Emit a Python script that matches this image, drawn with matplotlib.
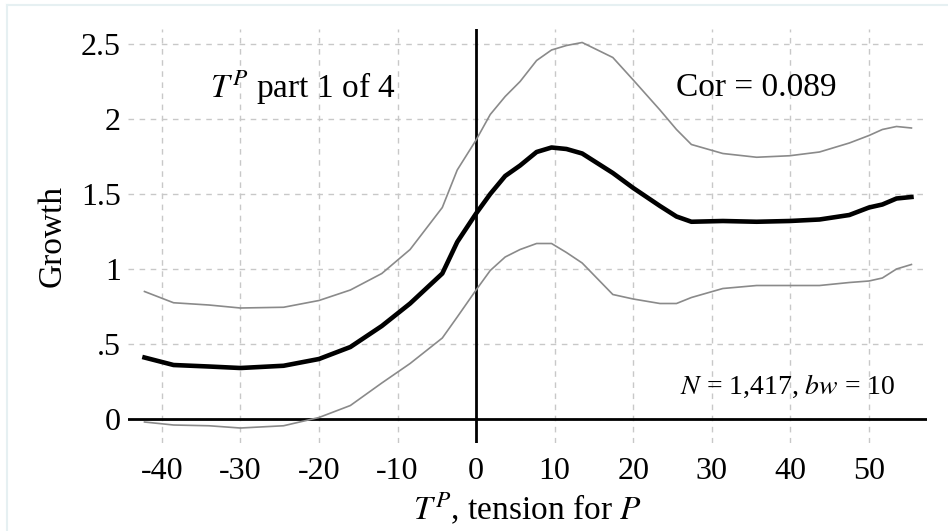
import matplotlib
matplotlib.use('Agg')
import matplotlib.pyplot as plt
from matplotlib.lines import Line2D
import numpy as np

plt.rcParams['font.family'] = ['Liberation Serif', 'DejaVu Serif']
plt.rcParams['mathtext.fontset'] = 'stix'

# tension values where the smoothed curves were evaluated
tension = [-42.2, -38.5, -34, -30, -24.5, -20, -16, -12, -8.4, -4.3, -2.4, 0,
           1.8, 3.7, 5.6, 7.7, 9.6, 11.5, 13.5, 17.4, 20, 23.4, 25.5, 27.4,
           31.4, 35.7, 39.9, 43.7, 47.5, 50, 51.7, 53.5, 55.4]

# estimated growth
growth = [0.41, 0.36, 0.35, 0.34, 0.355, 0.40, 0.48, 0.62, 0.77, 0.97, 1.18, 1.37,
          1.50, 1.62, 1.69, 1.78, 1.81, 1.80, 1.77, 1.64, 1.54, 1.42, 1.35, 1.315,
          1.32, 1.315, 1.32, 1.33, 1.36, 1.41, 1.43, 1.47, 1.48]

# upper and lower confidence bands
upper = [0.85, 0.775, 0.76, 0.74, 0.745, 0.79, 0.86, 0.97, 1.13, 1.41, 1.66, 1.86,
         2.03, 2.15, 2.25, 2.39, 2.46, 2.49, 2.51, 2.41, 2.26, 2.06, 1.93, 1.83,
         1.77, 1.745, 1.755, 1.78, 1.84, 1.89, 1.93, 1.95, 1.94]
lower = [-0.02, -0.04, -0.045, -0.06, -0.045, 0.01, 0.09, 0.24, 0.37, 0.54, 0.68, 0.86,
         0.99, 1.08, 1.13, 1.17, 1.17, 1.11, 1.04, 0.83, 0.80, 0.77, 0.77, 0.81,
         0.87, 0.89, 0.89, 0.89, 0.91, 0.92, 0.94, 1.00, 1.03]

x_ticks = [-40, -30, -20, -10, 0, 10, 20, 30, 40, 50]
y_ticks = [0, 0.5, 1, 1.5, 2, 2.5]
y_tick_labels = ['0', '.5', '1', '1.5', '2', '2.5']

fig = plt.figure(figsize=(9.48, 5.31), dpi=100)
ax = fig.add_axes([0.135, 0.1657, 0.843, 0.7797])

# grid
ax.grid(True, color='#c8c8c8', linestyle=(0, (4, 4)), linewidth=1.0)
ax.set_axisbelow(True)

# zero lines
ax.axhline(0, color='black', linewidth=2.0, zorder=2)
ax.axvline(0, color='black', linewidth=2.0, zorder=2)

# curves
x = np.array(tension)
ax.plot(x, upper, color='#8a8a8a', linewidth=1.2, zorder=3)
ax.plot(x, lower, color='#8a8a8a', linewidth=1.2, zorder=3)
ax.plot(x, growth, color='black', linewidth=3.3, zorder=4)

ax.set_xlim(-44.3, 57.4)
ax.set_ylim(-0.16, 2.6)
ax.set_xticks(x_ticks)
ax.set_xticklabels([str(t) for t in x_ticks])
ax.set_yticks(y_ticks)
ax.set_yticklabels(y_tick_labels)
ax.tick_params(axis='both', length=0, labelsize=23)
ax.tick_params(axis='x', pad=10)
ax.tick_params(axis='y', pad=5)

for s in ax.spines.values():
    s.set_visible(False)

ax.set_ylabel('Growth', fontsize=24, labelpad=10)
ax.set_xlabel(r'$T^P$, tension for $P$', fontsize=24, labelpad=3)

# annotations
ax.text(-33.8, 2.21, r'$T^P$ part 1 of 4', fontsize=24, ha='left', va='center')
ax.text(25.5, 2.21, 'Cor = 0.089', fontsize=24, ha='left', va='center')
ax.text(53.4, 0.215, r'$N$ = 1,417, $bw$ = 10', fontsize=20, ha='right', va='center')

# faint frame along the top and left of the picture
fig.add_artist(Line2D([0.007, 1.0], [0.99, 0.99], transform=fig.transFigure,
                      color='#e6f0f2', linewidth=1.5))
fig.add_artist(Line2D([0.007, 0.007], [0.0, 0.99], transform=fig.transFigure,
                      color='#e6f0f2', linewidth=1.5))

plt.savefig('out.png', dpi=100)
plt.close()
